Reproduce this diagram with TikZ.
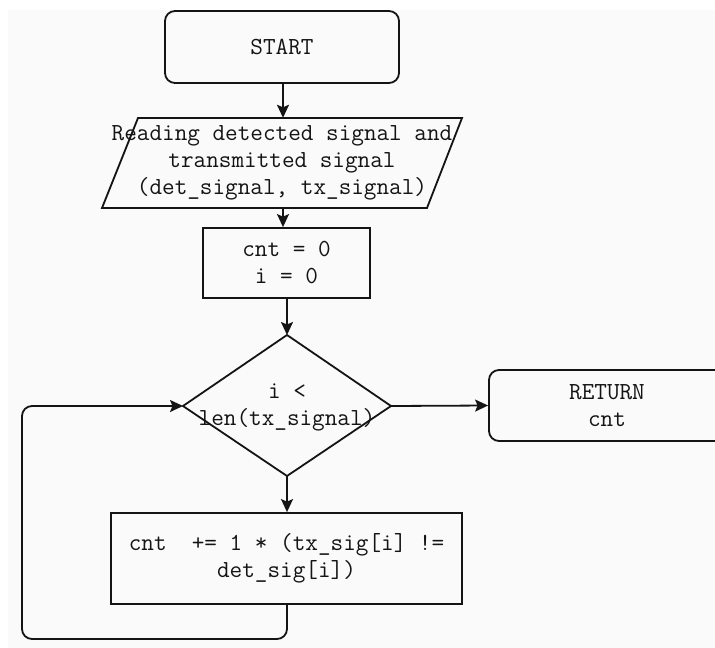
\documentclass[tikz,border=0pt]{standalone}
\usetikzlibrary{shapes.geometric,arrows.meta}
\definecolor{canvas}{RGB}{250,250,250}
\definecolor{ink}{RGB}{20,20,20}
\tikzset{
  flowtext/.style={font=\fontsize{24.5}{27}\selectfont\ttfamily, align=center, inner sep=0pt, text=ink},
  outline/.style={draw=ink, line width=1.8pt},
  terminal/.style={flowtext, outline, rounded corners=10pt},
  process/.style={flowtext, outline},
  flow/.style={draw=ink, line width=1.8pt, -{Stealth[length=13pt,width=12pt,inset=2.5pt]}},
}
\begin{document}
\begin{tikzpicture}[x=1pt,y=-1pt]
  \useasboundingbox (0,0) rectangle (715,648);
  \clip (0,0) rectangle (715,648);
  \fill[white] (0,0) rectangle (715,648);
  \fill[canvas] (8,10) rectangle (715,648);

  % start terminal
  \node[terminal, minimum width=234pt, minimum height=72pt] (start) at (282,47) {START};

  % input: parallelogram drawn around its text node
  \node[flowtext, minimum width=325pt, minimum height=90pt] (input) at (282,163)
    {Reading detected signal and\\transmitted signal\\(det\_signal, tx\_signal)};
  \draw[outline, line join=miter] (138,118) -- (462,118) -- (427,208) -- (102,208) -- cycle;

  % initialisation
  \node[process, minimum width=167pt, minimum height=70pt] (init) at (286.5,263)
    {cnt = 0\\i = 0};

  % loop condition: diamond outline, text set on top of it
  \coordinate (cond) at (287,406);
  \coordinate (cond-n) at (287,335);
  \coordinate (cond-s) at (287,476);
  \coordinate (cond-w) at (183,406);
  \coordinate (cond-e) at (391,406);
  \draw[outline] (cond-n) -- (cond-e) -- (cond-s) -- (cond-w) -- cycle;
  \node[flowtext] (condtext) at (287,407) {i <\\len(tx\_signal)};

  % loop body
  \node[process, minimum width=351pt, minimum height=91pt] (body) at (286.5,558.5)
    {cnt~~+= 1 * (tx\_sig[i] !=\\det\_sig[i])};

  % result
  \node[terminal, minimum width=236pt, minimum height=71pt] (ret) at (607,405.5)
    {RETURN\\cnt};

  \coordinate (loopA) at (287,639);
  \coordinate (loopB) at (22,639);
  \coordinate (loopC) at (22,406);

  \draw[flow] (start.south -| 283,0) -- (input.north -| 283,0);
  \draw[flow] (input.south -| 283,0) -- (init.north -| 283,0);
  \draw[flow] (init.south -| cond-n) -- (cond-n);
  \draw[flow] (cond-s) -- (body.north -| cond-s);
  \draw[flow] (cond-e) -- (ret.west);
  \draw[flow, rounded corners=10pt] (body.south -| loopA) -- (loopA) -- (loopB) -- (loopC) -- (cond-w);
\end{tikzpicture}
\end{document}
